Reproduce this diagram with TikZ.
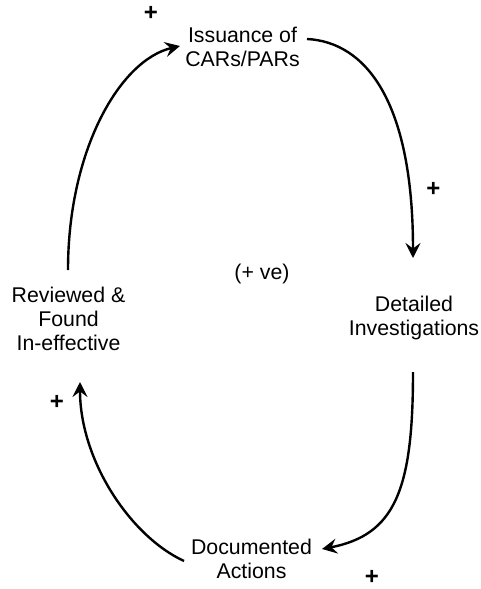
\documentclass[tikz,border=0pt]{standalone}
\usepackage{fontspec}
\setmainfont{Liberation Sans}
\usetikzlibrary{arrows.meta}
\begin{document}
\begin{tikzpicture}[x=1pt,y=-1pt,
  lbl/.style={align=center,inner sep=0pt,font=\fontsize{21.3}{24}\selectfont},
  sgn/.style={inner sep=0pt,font=\fontsize{24}{24}\selectfont\bfseries},
  link/.style={line width=2.4pt,-{Stealth[length=15pt,width=15pt,inset=5.5pt]}}]
\useasboundingbox[fill=white] (0,0) rectangle (481,589);
% labels
\node[lbl] (iss) at (242.5,46.7) {Issuance of\\CARs/PARs};
\node[lbl] (det) at (414,318.2) {Detailed\\Investigations};
\node[lbl] (doc) at (251.5,559) {Documented\\Actions};
\node[lbl] (rev) at (68.5,318.7) {Reviewed \&\\Found\\In-effective};
\node[lbl] (ve) at (262,274) {(+ ve)};
% signs
\node[sgn] (p1) at (151,13) {+};
\node[sgn] (p2) at (433.5,189.5) {+};
\node[sgn] (p3) at (57,402) {+};
\node[sgn] (p4) at (372,577) {+};
% connector ends
\coordinate (a1s) at (307,39);
\coordinate (a1e) at (413,258);
\coordinate (a2s) at (413,372);
\coordinate (a2e) at (322,549);
\coordinate (a3s) at (184,561);
\coordinate (a3e) at (80,382);
\coordinate (a4s) at (68,270);
\coordinate (a4e) at (180,46);
% connectors
\draw[link] (a1s) .. controls (365,42) and (413,100) .. (a1e);
\draw[link] (a2s) .. controls (413,490) and (395,535) .. (a2e);
\draw[link] (a3s) .. controls (130,536) and (80,460) .. (a3e);
\draw[link] (a4s) .. controls (68,150) and (120,60) .. (a4e);
\end{tikzpicture}
\end{document}
